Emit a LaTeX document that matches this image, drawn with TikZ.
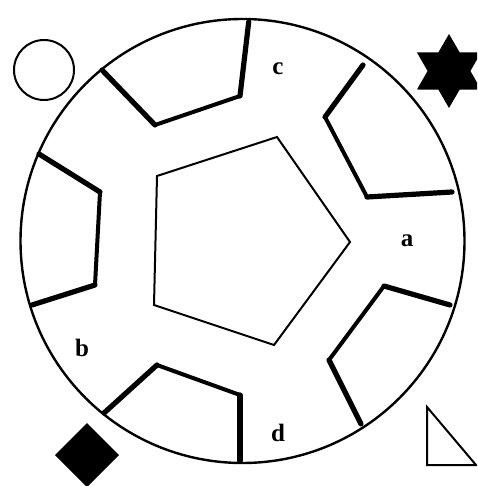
\documentclass[tikz,border=0pt]{standalone}
\usepackage{fontspec}
\setmainfont{Liberation Serif}
\begin{document}
\begin{tikzpicture}[x=1pt,y=-1pt,
  wall/.style={line width=5.2pt,line cap=round},
  mid/.style={line width=4pt,line join=miter},
  thin/.style={line width=2pt},
  lbl/.style={font=\fontsize{25}{25}\selectfont\bfseries,inner sep=0pt}]
\useasboundingbox (0,0) rectangle (477,486);
\clip (0,0) rectangle (477,486);
% big circle
\draw[line width=2.4pt] (242.5,241) circle (222);
% pentagon
\draw[thin,line join=miter] (350,242) -- (277,137) -- (157,176) -- (154,305) -- (274,345) -- cycle;
% chambers: middle segments
\draw[mid] (155,125) -- (240,96);
\draw[mid] (325,117) -- (367,197);
\draw[mid] (384,286) -- (329,360);
\draw[mid] (157,365) -- (240,395);
\draw[mid] (100,192) -- (95,285);
% chambers: outer walls
\draw[wall] (102,70) -- (155,125);
\draw[wall] (240,96) -- (248.7,22);
\draw[wall] (363,65) -- (325,117);
\draw[wall] (367,197) -- (452,192);
\draw[wall] (450,305) -- (384,286);
\draw[wall] (329,360) -- (361,424);
\draw[wall] (104,413) -- (157,365);
\draw[wall] (240,395) -- (240,461);
\draw[wall] (39,154) -- (100,192);
\draw[wall] (95,285) -- (32,305);
% labels
\node[lbl] (a) at (407,241) {a};
\node[lbl] (b) at (82,348) {b};
\node[lbl] (c) at (278,69) {c};
\node[lbl] (d) at (278,433) {d};
% corner shapes
\draw[line width=2pt] (44,70) circle (30);
\fill (449,34) -- (438.3,52.47) -- (416.96,52.5) -- (427.6,71) -- (416.96,89.5) -- (438.3,89.53) -- (449,108) -- (459.7,89.53) -- (481.04,89.5) -- (470.4,71) -- (481.04,52.5) -- (459.7,52.47) -- cycle;
\fill (87,423) -- (119,455) -- (87,487) -- (55,455) -- cycle;
\draw[line width=2pt,line join=miter] (427,407) -- (427,465) -- (476,465) -- cycle;
\end{tikzpicture}
\end{document}
